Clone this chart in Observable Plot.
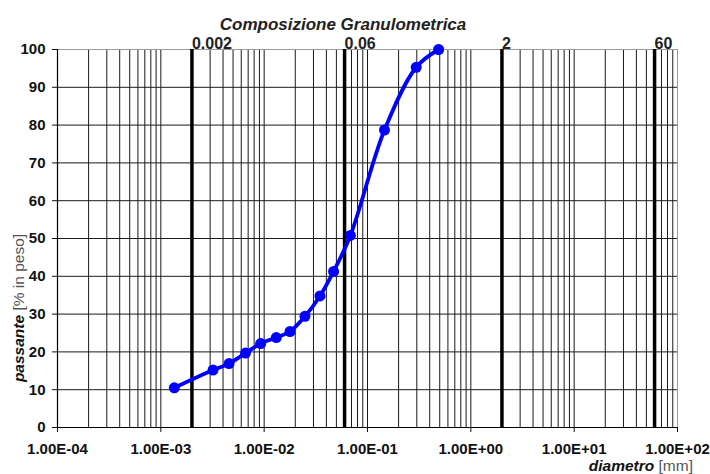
<!DOCTYPE html>
<html>
<head>
<meta charset="utf-8">
<script src="https://cdn.jsdelivr.net/npm/d3@7"></script>
<script src="https://cdn.jsdelivr.net/npm/@observablehq/plot@0.6"></script>
<style>
  html, body { margin: 0; padding: 0; background: #fff; }
</style>
</head>
<body>
<div id="chart"></div>
<script>
// Sample data
const diameters = [0.00135, 0.0032, 0.00457, 0.0066, 0.00925, 0.0131, 0.0178, 0.0248, 0.0347, 0.047, 0.0683, 0.146, 0.296, 0.488];
const passing   = [10.5, 15.2, 16.9, 19.7, 22.2, 23.8, 25.4, 29.4, 34.8, 41.3, 50.8, 78.7, 95.3, 100];

// Class limits (clay / silt / sand / gravel) shown as thick lines
const limits = [0.002, 0.06, 2, 60];
const limitLabels = ["0.002", "0.06", "2", "60"];

// Axis ticks
const xTicks = [1e-4, 1e-3, 1e-2, 1e-1, 1e0, 1e1, 1e2];
const yTicks = [0, 10, 20, 30, 40, 50, 60, 70, 80, 90, 100];
const multipliers = [1, 2, 3, 4, 5, 6, 7, 8, 9];

const data = diameters.map((d, i) => ({d, p: passing[i]}));
const gridX = xTicks.slice(0, -1).flatMap(dec => multipliers.map(m => m * dec));
const fmt = v => {
  const e = Math.round(Math.log10(v));
  return "1.00E" + (e < 0 ? "-" : "+") + String(Math.abs(e)).padStart(2, "0");
};

const chart = Plot.plot({
  width: 710,
  height: 474,
  marginLeft: 57,
  marginRight: 33,
  marginTop: 49,
  marginBottom: 47,
  x: {type: "log", domain: [1e-4, 1e2]},
  y: {domain: [0, 100]},
  style: {fontFamily: "'Liberation Sans', Arial, sans-serif", background: "#fff", color: "#111"},
  marks: [
    Plot.ruleX(gridX, {stroke: "#1a1a1a", strokeWidth: 1}),
    Plot.ruleY(yTicks.slice(1, -1), {stroke: "#1a1a1a", strokeWidth: 1}),
    Plot.ruleY([100], {stroke: "#9a9a9a", strokeWidth: 1}),
    Plot.ruleX([100], {stroke: "#9a9a9a", strokeWidth: 1}),
    Plot.ruleX(limits, {stroke: "#000", strokeWidth: 3.5}),
    Plot.text(limits, {x: d => d, y: () => 100, text: (d, i) => limitLabels[i], textAnchor: "start", lineAnchor: "bottom", dy: -1, fontSize: 16, fontWeight: "bold", fill: "#222"}),
    Plot.ruleX([1e-4], {stroke: "#000", strokeWidth: 1.2}),
    Plot.ruleY([0], {stroke: "#000", strokeWidth: 1.2}),
    Plot.axisX({ticks: xTicks, tickFormat: fmt, tickSize: 5, tickPadding: 11, fontSize: 15, fontWeight: "bold", label: null}),
    Plot.axisY({ticks: yTicks, tickSize: 5, tickPadding: 7, fontSize: 15, fontWeight: "bold", label: null}),
    Plot.line(data, {x: "d", y: "p", curve: "catmull-rom", stroke: "#0000ff", strokeWidth: 3.8}),
    Plot.dot(data, {x: "d", y: "p", r: 5.5, fill: "#0000ff"})
  ]
});

const svg = d3.select(chart);
svg.append("text")
  .attr("x", 343).attr("y", 29.5)
  .attr("text-anchor", "middle")
  .attr("font-size", 17).attr("font-weight", "bold").attr("font-style", "italic")
  .attr("fill", "#222")
  .text("Composizione Granulometrica");

const yl = svg.append("text")
  .attr("transform", "translate(24,308) rotate(-90)")
  .attr("text-anchor", "middle")
  .attr("font-size", 15.5);
yl.append("tspan").attr("font-weight", "bold").attr("font-style", "italic").attr("fill", "#111").text("passante");
yl.append("tspan").attr("fill", "#555").text(" [% in peso]");

const xl = svg.append("text")
  .attr("x", 693).attr("y", 471)
  .attr("text-anchor", "end")
  .attr("font-size", 15.5);
xl.append("tspan").attr("font-weight", "bold").attr("font-style", "italic").attr("fill", "#111").text("diametro");
xl.append("tspan").attr("fill", "#555").text(" [mm]");

document.getElementById("chart").appendChild(chart);
</script>
</body>
</html>
